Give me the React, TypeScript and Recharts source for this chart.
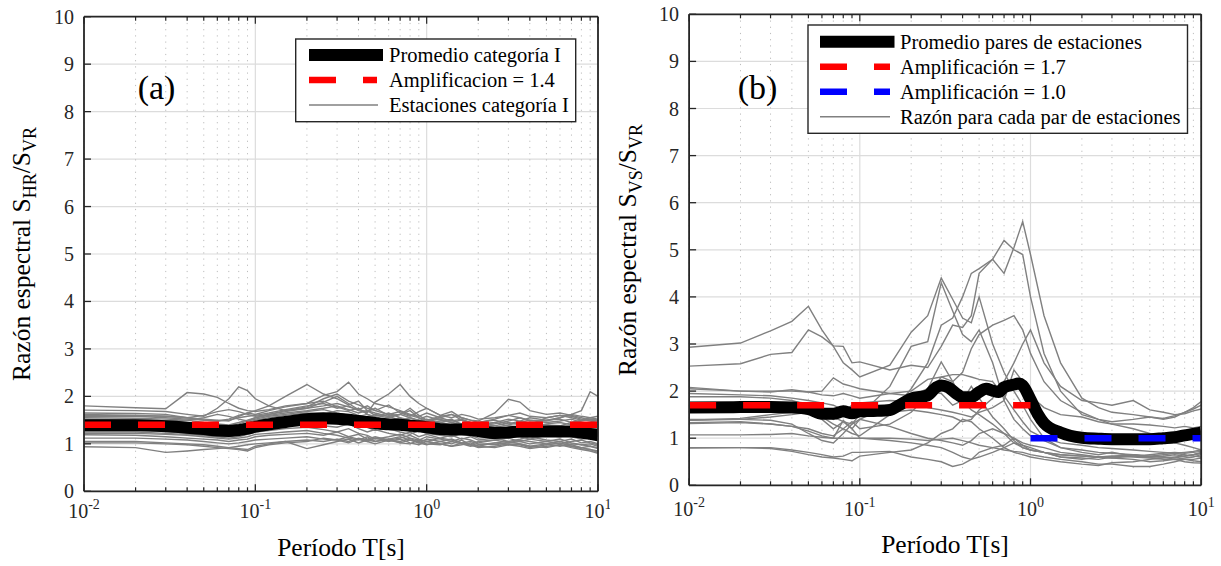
import { LineChart, Line, XAxis, YAxis, CartesianGrid } from "recharts"

const FONT = '"Liberation Serif", "Times New Roman", serif'
const FRAME = "#262626"
const GRID = "#dcdcdc"
const GRAY = "#808080"

// eje x (log) y eje y
const majorT = [0.01, 0.1, 1, 10]
const majorExp = ["-2", "-1", "0", "1"]
const minorT = [0.02, 0.03, 0.04, 0.05, 0.06, 0.07, 0.08, 0.09, 0.2, 0.3, 0.4, 0.5, 0.6, 0.7, 0.8, 0.9, 2, 3, 4, 5, 6, 7, 8, 9]
const yTicks = [0, 1, 2, 3, 4, 5, 6, 7, 8, 9, 10]

// ---- panel (a) ----
const periodsA = [0.01, 0.02, 0.03, 0.04, 0.05, 0.06, 0.07, 0.08, 0.09, 0.1, 0.12, 0.15, 0.2, 0.25, 0.3, 0.35, 0.4, 0.45, 0.5, 0.6, 0.7, 0.8, 0.9, 1.0, 1.2, 1.4, 1.6, 1.8, 2, 2.5, 3, 3.5, 4, 5, 6, 7, 8, 9, 10]
const stationsA = [
  [1.80, 1.76, 1.74, 2.08, 2.05, 1.98, 1.85, 1.75, 1.70, 1.68, 1.72, 1.80, 1.85, 1.90, 1.78, 1.70, 1.75, 1.62, 1.58, 1.65, 1.55, 1.50, 1.48, 1.52, 1.45, 1.40, 1.42, 1.38, 1.45, 1.50, 1.42, 1.48, 1.55, 1.50, 1.52, 1.45, 1.48, 1.52, 1.50],
  [1.71, 1.70, 1.68, 1.62, 1.58, 1.75, 1.95, 2.20, 2.12, 1.95, 1.80, 1.70, 1.75, 1.88, 2.00, 1.85, 1.72, 1.68, 1.75, 1.60, 1.62, 1.55, 1.50, 1.48, 1.55, 1.62, 1.50, 1.45, 1.40, 1.45, 1.52, 1.48, 1.40, 1.55, 1.60, 1.58, 1.52, 1.48, 1.45],
  [1.65, 1.64, 1.62, 1.55, 1.52, 1.50, 1.48, 1.58, 1.65, 1.70, 1.80, 2.00, 2.25, 2.05, 1.95, 1.82, 1.90, 1.70, 1.65, 1.58, 1.62, 1.70, 1.55, 1.45, 1.48, 1.52, 1.40, 1.35, 1.42, 1.38, 1.30, 1.35, 1.42, 1.40, 1.38, 1.45, 1.50, 1.55, 1.58],
  [1.62, 1.60, 1.58, 1.55, 1.50, 1.48, 1.52, 1.60, 1.65, 1.62, 1.70, 1.78, 1.85, 2.02, 2.10, 2.30, 2.05, 1.95, 1.85, 1.78, 1.70, 1.62, 1.58, 1.65, 1.55, 1.48, 1.52, 1.45, 1.38, 1.42, 1.48, 1.55, 1.50, 1.45, 1.48, 1.52, 1.45, 1.42, 1.40],
  [1.58, 1.58, 1.55, 1.52, 1.50, 1.48, 1.50, 1.55, 1.58, 1.60, 1.65, 1.72, 1.80, 1.85, 1.75, 1.80, 1.70, 1.65, 1.88, 2.05, 2.25, 2.00, 1.85, 1.75, 1.60, 1.68, 1.55, 1.50, 1.45, 1.52, 1.60, 1.55, 1.48, 1.50, 1.55, 1.62, 1.58, 1.55, 1.52],
  [1.55, 1.54, 1.52, 1.50, 1.45, 1.42, 1.40, 1.45, 1.50, 1.55, 1.60, 1.65, 1.70, 1.75, 1.80, 1.72, 1.65, 1.70, 1.60, 1.55, 1.62, 1.75, 1.60, 1.50, 1.58, 1.62, 1.55, 1.50, 1.48, 1.65, 1.94, 1.88, 1.70, 1.62, 1.65, 1.60, 1.55, 1.50, 1.48],
  [1.52, 1.50, 1.48, 1.45, 1.42, 1.40, 1.38, 1.42, 1.48, 1.52, 1.58, 1.62, 1.68, 1.72, 1.65, 1.60, 1.58, 1.62, 1.55, 1.50, 1.48, 1.45, 1.52, 1.58, 1.50, 1.45, 1.40, 1.42, 1.38, 1.35, 1.40, 1.45, 1.50, 1.48, 1.55, 1.62, 1.70, 2.10, 2.00],
  [1.48, 1.48, 1.45, 1.42, 1.38, 1.35, 1.32, 1.38, 1.45, 1.50, 1.55, 1.60, 1.65, 1.62, 1.70, 1.68, 1.60, 1.55, 1.62, 1.58, 1.50, 1.55, 1.48, 1.42, 1.45, 1.50, 1.42, 1.38, 1.40, 1.45, 1.38, 1.35, 1.42, 1.40, 1.35, 1.32, 1.38, 1.35, 1.30],
  [1.45, 1.44, 1.40, 1.38, 1.35, 1.30, 1.28, 1.32, 1.38, 1.45, 1.50, 1.55, 1.58, 1.62, 1.55, 1.50, 1.45, 1.52, 1.40, 1.48, 1.55, 1.42, 1.38, 1.35, 1.40, 1.32, 1.28, 1.35, 1.30, 1.25, 1.32, 1.28, 1.35, 1.30, 1.25, 1.32, 1.28, 1.25, 1.22],
  [1.42, 1.40, 1.38, 1.35, 1.30, 1.25, 1.22, 1.28, 1.32, 1.38, 1.42, 1.48, 1.52, 1.58, 1.60, 1.52, 1.48, 1.40, 1.45, 1.35, 1.30, 1.38, 1.32, 1.28, 1.35, 1.25, 1.20, 1.28, 1.22, 1.18, 1.25, 1.30, 1.22, 1.25, 1.28, 1.20, 1.18, 1.22, 1.15],
  [1.38, 1.36, 1.32, 1.30, 1.25, 1.20, 1.18, 1.22, 1.28, 1.32, 1.38, 1.42, 1.48, 1.45, 1.52, 1.45, 1.40, 1.35, 1.28, 1.32, 1.25, 1.20, 1.28, 1.22, 1.18, 1.15, 1.22, 1.18, 1.12, 1.15, 1.20, 1.15, 1.10, 1.18, 1.22, 1.15, 1.10, 1.12, 1.08],
  [1.35, 1.34, 1.30, 1.28, 1.22, 1.18, 1.15, 1.20, 1.25, 1.30, 1.35, 1.40, 1.42, 1.38, 1.35, 1.42, 1.32, 1.25, 1.30, 1.22, 1.18, 1.25, 1.15, 1.20, 1.12, 1.18, 1.10, 1.15, 1.08, 1.12, 1.05, 1.10, 1.15, 1.08, 1.05, 1.10, 1.02, 1.05, 1.00],
  [1.30, 1.29, 1.26, 1.22, 1.18, 1.15, 1.12, 1.15, 1.20, 1.25, 1.28, 1.32, 1.35, 1.30, 1.25, 1.32, 1.22, 1.18, 1.10, 1.15, 1.20, 1.12, 1.08, 1.15, 1.10, 1.05, 1.12, 1.08, 1.02, 1.08, 1.12, 1.05, 1.00, 1.05, 1.10, 1.02, 0.98, 1.00, 0.95],
  [1.22, 1.22, 1.20, 1.18, 1.15, 1.12, 1.10, 1.12, 1.15, 1.20, 1.22, 1.25, 1.28, 1.22, 1.18, 1.12, 1.08, 1.15, 1.05, 1.10, 1.15, 1.08, 1.02, 1.10, 1.05, 1.00, 1.08, 0.98, 0.95, 1.02, 1.05, 1.00, 0.95, 1.00, 1.05, 0.98, 0.92, 0.95, 0.90],
  [1.19, 1.18, 1.15, 1.12, 1.10, 1.08, 1.05, 1.08, 1.10, 1.15, 1.18, 1.20, 1.22, 1.18, 1.25, 1.15, 1.20, 1.10, 1.15, 1.08, 1.12, 1.18, 1.10, 1.05, 1.12, 1.08, 1.02, 1.05, 1.00, 0.98, 1.02, 1.08, 1.05, 1.00, 0.95, 1.00, 0.98, 0.95, 0.92],
  [1.12, 1.12, 1.10, 1.08, 1.05, 1.02, 1.00, 1.02, 1.05, 1.08, 1.10, 1.12, 1.15, 1.10, 1.08, 1.15, 1.10, 1.05, 1.12, 1.08, 1.02, 1.08, 1.05, 1.00, 0.98, 1.05, 1.00, 0.95, 0.98, 1.02, 0.98, 1.00, 0.95, 0.92, 0.98, 0.95, 0.90, 0.88, 0.85],
  [1.05, 1.05, 1.02, 1.00, 0.98, 0.95, 0.92, 0.90, 0.88, 0.95, 1.00, 1.05, 1.08, 1.05, 1.10, 1.05, 1.12, 1.08, 1.05, 1.10, 1.02, 1.00, 1.08, 1.05, 1.00, 0.95, 0.98, 1.02, 0.95, 0.92, 0.98, 0.95, 0.90, 0.95, 0.98, 0.92, 0.88, 0.85, 0.80],
  [0.94, 0.92, 0.82, 0.85, 0.88, 0.90, 0.92, 0.95, 0.98, 1.00, 1.02, 1.05, 0.90, 0.98, 1.05, 1.10, 1.02, 1.08, 1.12, 1.05, 1.10, 1.02, 0.98, 1.05, 1.00, 0.95, 1.02, 0.98, 0.92, 0.95, 1.00, 0.98, 0.92, 0.98, 1.02, 0.95, 0.92, 0.88, 0.82],
  [1.02, 1.02, 1.00, 0.98, 0.95, 0.92, 0.90, 0.88, 0.85, 0.92, 0.98, 1.02, 1.05, 1.12, 1.08, 1.02, 1.10, 1.05, 1.00, 1.08, 1.05, 1.12, 1.02, 0.98, 1.05, 1.10, 1.02, 0.98, 1.05, 1.08, 1.02, 1.05, 1.10, 1.05, 1.00, 1.05, 1.08, 1.02, 0.98],
  [1.60, 1.60, 1.58, 1.55, 1.60, 1.68, 1.72, 1.68, 1.62, 1.58, 1.62, 1.70, 1.78, 1.95, 2.05, 1.90, 1.82, 1.75, 1.70, 1.82, 1.65, 1.58, 1.68, 1.75, 1.60, 1.55, 1.62, 1.58, 1.52, 1.55, 1.60, 1.65, 1.58, 1.55, 1.60, 1.55, 1.50, 1.52, 1.50],
  [1.25, 1.25, 1.22, 1.20, 1.18, 1.15, 1.18, 1.22, 1.28, 1.35, 1.40, 1.45, 1.50, 1.55, 1.48, 1.42, 1.50, 1.45, 1.38, 1.42, 1.35, 1.30, 1.35, 1.28, 1.22, 1.28, 1.20, 1.25, 1.18, 1.22, 1.15, 1.20, 1.25, 1.18, 1.15, 1.20, 1.15, 1.12, 1.10],
  [1.50, 1.50, 1.48, 1.50, 1.55, 1.62, 1.58, 1.52, 1.48, 1.55, 1.62, 1.68, 1.75, 1.80, 1.85, 1.78, 1.72, 1.80, 1.70, 1.62, 1.68, 1.60, 1.55, 1.50, 1.52, 1.45, 1.50, 1.42, 1.40, 1.38, 1.45, 1.40, 1.35, 1.42, 1.45, 1.40, 1.38, 1.35, 1.32],
]
const meanA = [1.39, 1.39, 1.37, 1.34, 1.31, 1.28, 1.27, 1.29, 1.32, 1.36, 1.41, 1.46, 1.52, 1.54, 1.53, 1.51, 1.48, 1.46, 1.44, 1.41, 1.40, 1.38, 1.37, 1.35, 1.31, 1.30, 1.30, 1.29, 1.27, 1.23, 1.24, 1.26, 1.26, 1.26, 1.26, 1.26, 1.24, 1.21, 1.18]
const ampA = 1.4

// ---- panel (b) ----
const periodsB = [0.01, 0.02, 0.03, 0.04, 0.05, 0.06, 0.07, 0.08, 0.09, 0.1, 0.15, 0.2, 0.25, 0.3, 0.35, 0.4, 0.45, 0.5, 0.6, 0.7, 0.8, 0.9, 1.0, 1.2, 1.5, 2, 2.5, 3, 4, 5, 6, 7, 8, 9, 10]
const stationsB = [
  [2.93, 3.02, 3.28, 3.48, 3.80, 3.30, 2.95, 2.60, 2.45, 2.30, 2.55, 3.25, 3.60, 4.40, 3.95, 3.55, 3.45, 4.00, 3.00, 2.40, 2.00, 1.70, 1.40, 1.00, 0.80, 0.70, 0.65, 0.70, 0.62, 0.60, 0.60, 0.55, 0.58, 0.60, 0.65],
  [2.53, 2.58, 2.78, 2.82, 3.30, 3.15, 2.96, 2.95, 2.60, 2.62, 2.45, 2.55, 2.50, 2.95, 3.40, 3.35, 3.60, 4.50, 4.80, 4.50, 5.05, 5.60, 4.90, 3.60, 2.60, 1.85, 1.65, 1.55, 1.50, 1.45, 1.42, 1.48, 1.55, 1.62, 1.70],
  [1.38, 1.40, 1.45, 1.50, 1.55, 1.45, 1.30, 1.20, 1.10, 1.05, 1.50, 2.05, 2.60, 3.40, 3.55, 4.00, 4.50, 4.60, 4.80, 5.20, 5.00, 4.90, 4.00, 2.80, 2.00, 1.50, 1.40, 1.35, 1.40, 1.45, 1.40, 1.45, 1.55, 1.65, 1.78],
  [1.33, 1.35, 1.30, 1.25, 1.20, 1.10, 1.05, 1.20, 1.35, 1.20, 1.30, 1.55, 1.90, 2.30, 2.20, 2.40, 2.90, 3.20, 3.40, 3.50, 3.60, 3.30, 2.80, 2.20, 1.80, 1.55, 1.40, 1.30, 1.30, 1.28, 1.25, 1.22, 1.25, 1.22, 1.25],
  [2.08, 2.00, 2.00, 2.00, 1.98, 2.00, 2.28, 2.15, 2.10, 2.05, 1.95, 1.90, 2.05, 2.62, 2.20, 1.80, 1.60, 1.50, 1.30, 1.10, 0.90, 0.80, 0.75, 0.70, 0.65, 0.62, 0.60, 0.62, 0.60, 0.58, 0.55, 0.55, 0.55, 0.52, 0.50],
  [2.05, 2.00, 1.98, 2.03, 1.98, 1.92, 1.90, 1.95, 1.90, 1.85, 1.95, 2.00, 2.25, 2.30, 2.35, 2.35, 2.30, 2.25, 2.20, 1.90, 1.60, 1.35, 1.15, 1.00, 0.90, 0.85, 0.80, 0.78, 0.75, 0.72, 0.70, 0.68, 0.70, 0.72, 0.75],
  [1.88, 1.88, 1.85, 1.80, 1.70, 1.55, 1.40, 1.55, 1.70, 1.75, 1.80, 1.78, 1.65, 1.60, 1.55, 1.50, 1.45, 1.55, 1.65, 1.80, 2.45, 2.20, 1.90, 1.65, 1.50, 1.45, 1.35, 1.30, 1.20, 1.10, 1.00, 0.90, 0.85, 0.80, 0.75],
  [1.38, 1.42, 1.50, 1.55, 1.60, 1.50, 1.45, 1.35, 1.30, 1.40, 1.25, 1.10, 1.00, 0.95, 0.90, 0.85, 0.95, 1.10, 1.20, 1.10, 1.00, 0.90, 0.85, 0.80, 0.70, 0.65, 0.60, 0.62, 0.65, 0.62, 0.60, 0.58, 0.62, 0.65, 0.70],
  [1.31, 1.33, 1.30, 1.25, 1.15, 1.05, 1.00, 1.38, 1.20, 1.00, 0.95, 0.90, 0.85, 0.80, 0.70, 0.60, 0.55, 0.60, 0.70, 0.80, 0.90, 0.85, 0.80, 0.70, 0.60, 0.55, 0.60, 0.58, 0.55, 0.50, 0.52, 0.55, 0.50, 0.48, 0.47],
  [1.07, 1.07, 1.08, 1.10, 1.05, 1.02, 1.00, 1.00, 1.00, 1.00, 1.00, 0.98, 0.95, 0.98, 1.00, 0.95, 0.90, 0.85, 0.80, 0.75, 0.72, 0.70, 0.65, 0.60, 0.55, 0.50, 0.45, 0.45, 0.40, 0.40, 0.45, 0.50, 0.55, 0.55, 0.58],
  [0.80, 0.80, 0.78, 0.72, 0.65, 0.60, 0.58, 0.55, 0.52, 0.62, 0.70, 0.75, 0.90, 1.10, 1.20, 1.40, 1.35, 1.20, 1.00, 0.80, 0.70, 0.65, 0.60, 0.55, 0.50, 0.45, 0.42, 0.48, 0.50, 0.55, 0.58, 0.60, 0.62, 0.65, 0.68],
  [0.79, 0.80, 0.80, 0.75, 0.70, 0.65, 0.60, 0.62, 0.70, 0.70, 0.72, 0.60, 0.55, 0.50, 0.40, 0.45, 0.55, 0.70, 0.80, 0.85, 1.00, 0.85, 0.75, 0.70, 0.60, 0.58, 0.55, 0.60, 0.65, 0.60, 0.62, 0.65, 0.62, 0.65, 0.68],
  [1.60, 1.62, 1.60, 1.60, 1.55, 1.40, 1.20, 1.35, 1.20, 1.40, 1.70, 1.95, 2.00, 1.95, 1.70, 1.80, 2.10, 1.85, 1.45, 1.20, 0.95, 0.80, 0.75, 0.70, 0.65, 0.62, 0.60, 0.58, 0.62, 0.65, 0.68, 0.70, 0.68, 0.70, 0.72],
  [1.40, 1.40, 1.38, 1.30, 1.10, 0.95, 0.90, 1.10, 1.30, 1.50, 2.10, 2.95, 3.05, 4.30, 3.70, 3.20, 3.05, 3.30, 2.60, 1.80, 1.40, 1.20, 1.05, 0.95, 0.80, 0.75, 0.70, 0.68, 0.65, 0.62, 0.65, 0.68, 0.65, 0.62, 0.60],
  [1.95, 1.92, 1.90, 1.85, 1.80, 1.75, 1.70, 1.60, 1.55, 1.50, 1.55, 1.60, 1.55, 1.50, 1.45, 1.35, 1.40, 1.60, 1.85, 2.20, 2.60, 3.00, 3.30, 2.60, 2.10, 1.80, 1.75, 1.70, 1.80, 1.60, 1.55, 1.50, 1.52, 1.58, 1.62],
]
const meanPeriodsB = [0.01, 0.02, 0.03, 0.04, 0.05, 0.06, 0.07, 0.08, 0.09, 0.1, 0.12, 0.15, 0.17, 0.2, 0.25, 0.28, 0.3, 0.33, 0.37, 0.4, 0.45, 0.5, 0.55, 0.6, 0.65, 0.7, 0.8, 0.85, 0.9, 1.0, 1.1, 1.2, 1.5, 2, 2.5, 3, 4, 5, 6, 7, 8, 9, 10]
const meanB = [1.65, 1.66, 1.66, 1.65, 1.62, 1.52, 1.52, 1.57, 1.53, 1.57, 1.58, 1.60, 1.70, 1.84, 1.91, 2.08, 2.12, 2.08, 1.94, 1.87, 1.87, 1.98, 2.05, 2.01, 1.98, 2.08, 2.14, 2.16, 2.12, 1.82, 1.52, 1.32, 1.12, 1.01, 0.99, 0.98, 0.98, 0.98, 1.00, 1.02, 1.06, 1.09, 1.12]
const ampB1 = 1.7
const ampB2 = 1.0

const makeRows = (periods: number[], stations: number[][]) =>
  periods.map((T, i) => {
    const row: any = { T }
    stations.forEach((s, k) => (row[`s${k}`] = s[i]))
    return row
  })

const rowsA = makeRows(periodsA, stationsA)
const rowsB = makeRows(periodsB, stationsB)
const meanRowsA = periodsA.map((T, i) => ({ T, v: meanA[i] }))
const meanRowsB = meanPeriodsB.map((T, i) => ({ T, v: meanB[i] }))

type Amp = { data: { T: number; v: number }[]; color: string }

const ampsA: Amp[] = [{ data: [{ T: 0.01, v: ampA }, { T: 10, v: ampA }], color: "#ff0000" }]
const ampsB: Amp[] = [
  { data: [{ T: 0.01, v: ampB1 }, { T: 1, v: ampB1 }], color: "#ff0000" },
  { data: [{ T: 1, v: ampB2 }, { T: 10, v: ampB2 }], color: "#0000ff" },
]

// plot box (px inside each chart): left, top, right, bottom
function Panel({ width, height, box, rows, nStations, meanRows, amps, labelDy }: any) {
  // axes have width/height 1 so they are drawn; margins compensate
  const margin = {
    left: box.left - 1,
    top: box.top - 1,
    right: width - box.right - 1,
    bottom: height - box.bottom - 2,
  }
  const bottomMajor = (p: any) => {
    const idx = majorT.indexOf(p.payload.value)
    return (
      <g>
        <line x1={p.x} x2={p.x} y1={p.y} y2={p.y - 7} stroke={FRAME} strokeWidth={1.3} />
        <text x={p.x} y={p.y + labelDy} textAnchor="middle" fontFamily={FONT} fontSize={20} fill={FRAME}>
          <tspan>10</tspan>
          <tspan dy={-9} fontSize={14}>{majorExp[idx]}</tspan>
        </text>
      </g>
    )
  }
  const bottomMinor = (p: any) => (
    <line x1={p.x} x2={p.x} y1={p.y - 1} y2={p.y - 5} stroke={FRAME} strokeWidth={1.2} />
  )
  const topTick = (p: any) => {
    const len = majorT.includes(p.payload.value) ? 7 : 4
    return <line x1={p.x} x2={p.x} y1={p.y} y2={p.y + len} stroke={FRAME} strokeWidth={1.2} />
  }
  const leftTick = (p: any) => (
    <g>
      <line x1={p.x} x2={p.x + 7} y1={p.y} y2={p.y} stroke={FRAME} strokeWidth={1.3} />
      <text x={p.x - 10} y={p.y + 7} textAnchor="end" fontFamily={FONT} fontSize={20} fill={FRAME}>
        {p.payload.value}
      </text>
    </g>
  )
  const rightTick = (p: any) => (
    <line x1={p.x} x2={p.x - 7} y1={p.y} y2={p.y} stroke={FRAME} strokeWidth={1.3} />
  )
  const common = {
    type: "number" as const,
    scale: "log" as const,
    domain: [0.01, 10],
    allowDataOverflow: true,
    dataKey: "T",
    interval: 0,
    tickLine: false,
    tickSize: 0,
    tickMargin: 0,
    height: 1,
  }
  const frame = { stroke: FRAME, strokeWidth: 1.8 }
  return (
    <LineChart width={width} height={height} data={rows} margin={margin}>
      <CartesianGrid stroke={GRID} strokeWidth={1.2} />
      <CartesianGrid xAxisId="minor" horizontal={false} stroke="#bdbdbd" strokeWidth={1} strokeDasharray="1.2 5" />
      <XAxis {...common} ticks={majorT} tick={bottomMajor} axisLine={frame} />
      <XAxis {...common} xAxisId="minor" ticks={minorT} tick={bottomMinor} axisLine={false} />
      <XAxis {...common} xAxisId="top" orientation="top" ticks={[...majorT, ...minorT]} tick={topTick} axisLine={frame} />
      <YAxis type="number" domain={[0, 10]} ticks={yTicks} interval={0} width={1} tickLine={false} tickSize={0} tickMargin={0} tick={leftTick} axisLine={frame} />
      <YAxis yAxisId="right" orientation="right" type="number" domain={[0, 10]} ticks={yTicks} interval={0} width={1} tickLine={false} tickSize={0} tickMargin={0} tick={rightTick} axisLine={frame} />
      {Array.from({ length: nStations }, (_, k) => (
        <Line key={k} dataKey={`s${k}`} stroke={GRAY} strokeWidth={1.4} dot={false} activeDot={false} isAnimationActive={false} type="linear" />
      ))}
      <Line data={meanRows} dataKey="v" stroke="#000000" strokeWidth={12} strokeLinejoin="round" dot={false} activeDot={false} isAnimationActive={false} type="monotone" />
      {amps.map((a: Amp, i: number) => (
        <Line key={`amp${i}`} data={a.data} dataKey="v" stroke={a.color} strokeWidth={6.5} strokeDasharray="27 27" dot={false} activeDot={false} isAnimationActive={false} type="linear" />
      ))}
    </LineChart>
  )
}

function Overlay() {
  const t = { fontFamily: FONT, fill: "#000" }
  return (
    <svg width={1221} height={566} style={{ position: "absolute", left: 0, top: 0, pointerEvents: "none" }}>
      {/* panel labels */}
      <text x={156.5} y={99} textAnchor="middle" fontSize={34} {...t}>(a)</text>
      <text x={757.5} y={99} textAnchor="middle" fontSize={34} {...t}>(b)</text>

      {/* axis titles */}
      <text x={341} y={556} textAnchor="middle" fontSize={25.5} {...t}>Período T[s]</text>
      <text x={945} y={553} textAnchor="middle" fontSize={25.5} {...t}>Período T[s]</text>
      <text transform="translate(30,254) rotate(-90)" textAnchor="middle" fontSize={25.5} {...t}>
        <tspan>Razón espectral S</tspan>
        <tspan dy={6} fontSize={18}>HR</tspan>
        <tspan dy={-6}>/S</tspan>
        <tspan dy={6} fontSize={18}>VR</tspan>
      </text>
      <text transform="translate(635.5,250) rotate(-90)" textAnchor="middle" fontSize={25.5} {...t}>
        <tspan>Razón espectral S</tspan>
        <tspan dy={6} fontSize={18}>VS</tspan>
        <tspan dy={-6}>/S</tspan>
        <tspan dy={6} fontSize={18}>VR</tspan>
      </text>

      {/* legend (a) */}
      <rect x={295.7} y={39} width={280} height={82.7} fill="#fff" stroke={FRAME} strokeWidth={1.4} />
      <line x1={309} x2={383} y1={55} y2={55} stroke="#000" strokeWidth={12} />
      <line x1={309} x2={377} y1={80} y2={80} stroke="#ff0000" strokeWidth={6.5} strokeDasharray="27 27" />
      <line x1={309} x2={378} y1={105} y2={105} stroke={GRAY} strokeWidth={1.5} />
      <text x={389} y={62} fontSize={20.5} {...t}>Promedio categoría I</text>
      <text x={389} y={87} fontSize={20.5} {...t}>Amplificacion = 1.4</text>
      <text x={389} y={112} fontSize={20.5} {...t}>Estaciones categoría I</text>

      {/* legend (b) */}
      <rect x={808} y={25} width={379.5} height={108.3} fill="#fff" stroke={FRAME} strokeWidth={1.4} />
      <line x1={820} x2={894.5} y1={41.7} y2={41.7} stroke="#000" strokeWidth={12} />
      <line x1={820} x2={890} y1={66.7} y2={66.7} stroke="#ff0000" strokeWidth={6.5} strokeDasharray="27 27" />
      <line x1={820} x2={890} y1={91.7} y2={91.7} stroke="#0000ff" strokeWidth={6.5} strokeDasharray="27 27" />
      <line x1={820} x2={890} y1={116.7} y2={116.7} stroke={GRAY} strokeWidth={1.5} />
      <text x={900} y={48.7} fontSize={20.5} {...t}>Promedio pares de estaciones</text>
      <text x={900} y={73.7} fontSize={20.5} {...t}>Amplificación = 1.7</text>
      <text x={900} y={98.7} fontSize={20.5} {...t}>Amplificación = 1.0</text>
      <text x={900} y={123.7} fontSize={20.5} {...t}>Razón para cada par de estaciones</text>
    </svg>
  )
}

export default function App() {
  return (
    <div style={{ position: "absolute", left: 0, top: 0, width: 1221, height: 566, background: "#fff" }}>
      <div style={{ position: "absolute", left: 0, top: 0 }}>
        <Panel
          width={610}
          height={566}
          box={{ left: 84, top: 16.7, right: 598, bottom: 491.3 }}
          rows={rowsA}
          nStations={stationsA.length}
          meanRows={meanRowsA}
          amps={ampsA}
          labelDy={27}
        />
      </div>
      <div style={{ position: "absolute", left: 610, top: 0 }}>
        <Panel
          width={611}
          height={566}
          box={{ left: 79.1, top: 14.3, right: 591.2, bottom: 485.3 }}
          rows={rowsB}
          nStations={stationsB.length}
          meanRows={meanRowsB}
          amps={ampsB}
          labelDy={31}
        />
      </div>
      <Overlay />
    </div>
  )
}
